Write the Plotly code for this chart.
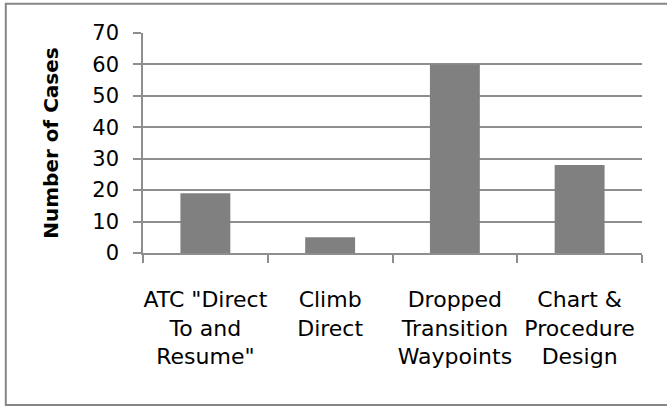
import plotly.graph_objects as go

# Categories and counts
categories = [
    'ATC "Direct<br>To and<br>Resume"',
    "Climb<br>Direct",
    "Dropped<br>Transition<br>Waypoints",
    "Chart &<br>Procedure<br>Design",
]
cases = [19, 5, 60, 28]
y_ticks = [0, 10, 20, 30, 40, 50, 60, 70]

GRID = "#8e8e8e"
BAR = "#808080"

fig = go.Figure(
    go.Bar(
        x=list(range(len(categories))),
        y=cases,
        marker=dict(color=BAR, line=dict(width=0)),
        hoverinfo="skip",
    )
)

W, H = 667, 407
L, R, T, B = 143, 25, 33, 154
pw, ph = W - L - R, H - T - B

fig.update_layout(
    width=W,
    height=H,
    margin=dict(l=L, r=R, t=T, b=B, pad=0),
    paper_bgcolor="white",
    plot_bgcolor="white",
    bargap=0.6,
    showlegend=False,
    font=dict(family="DejaVu Sans", color="#000000"),
    xaxis=dict(
        type="category",
        tickmode="array",
        tickvals=list(range(len(categories))),
        ticktext=categories,
        tickson="boundaries",
        tickangle=0,
        ticks="outside",
        ticklen=8,
        tickwidth=1.5,
        tickcolor=GRID,
        showline=True,
        linecolor=GRID,
        linewidth=1.5,
        showgrid=False,
        automargin=False,
        tickfont=dict(size=22, family="DejaVu Sans", color="#000"),
        ticklabelstandoff=26,
        range=[-0.5, 3.5],
        fixedrange=True,
    ),
    yaxis=dict(
        range=[0, 70],
        tickmode="array",
        tickvals=y_ticks,
        ticks="outside",
        ticklen=8,
        tickwidth=1.5,
        tickcolor=GRID,
        showline=True,
        linecolor=GRID,
        linewidth=1.5,
        showgrid=True,
        gridcolor=GRID,
        gridwidth=1.5,
        zeroline=False,
        automargin=False,
        tickfont=dict(size=21, family="DejaVu Sans", color="#000"),
        ticklabelstandoff=10,
        title=dict(
            text="Number of Cases",
            font=dict(size=20, family="DejaVu Sans", weight="bold", color="#000"),
            standoff=28,
        ),
        fixedrange=True,
    ),
    shapes=[
        dict(
            type="rect",
            xref="paper",
            yref="paper",
            x0=(5.8 - L) / pw,
            x1=(690 - L) / pw,
            y0=(H - B - 405) / ph,
            y1=(H - B - 3.8) / ph,
            line=dict(color="#868686", width=2),
            fillcolor="rgba(0,0,0,0)",
            layer="below",
        )
    ],
)

fig.write_html("out.html")
